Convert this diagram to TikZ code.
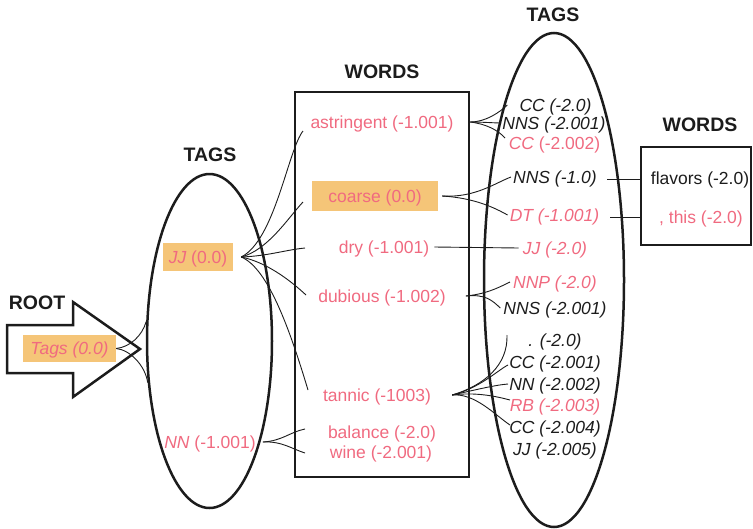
\documentclass[tikz,border=0pt]{standalone}
\usepackage{fontspec}
\setmainfont{Liberation Sans}
\usetikzlibrary{shapes.geometric}
\definecolor{pinktxt}{RGB}{240,106,128}
\definecolor{hl}{RGB}{245,197,120}
\definecolor{ink}{RGB}{28,28,28}
\tikzset{
  txt/.style={inner sep=0pt, text height=12.5pt, text depth=0pt, text=ink, font=\fontsize{17.5}{21}\selectfont},
  ptxt/.style={txt, text=pinktxt},
  itxt/.style={txt, font=\fontsize{17.5}{21}\selectfont\itshape},
  pitxt/.style={itxt, text=pinktxt},
  hdr/.style={inner sep=0pt, text=ink, font=\fontsize{19.5}{23}\selectfont\bfseries},
  hlbox/.style={fill=hl, inner sep=0pt, text height=12.5pt, text depth=0pt, text=pinktxt, font=\fontsize{17.5}{21}\selectfont},
  frame/.style={line width=2.5pt, draw=ink},
  conn/.style={line width=0.9pt, draw=ink},
}
\begin{document}
\begin{tikzpicture}[x=1pt,y=1pt]
\useasboundingbox (0,0) rectangle (753,-528);

% ---------- containers ----------
\draw[frame, line join=miter] (7,-325) -- (73,-325) -- (73,-302) -- (140,-349) -- (73,-397) -- (73,-373) -- (7,-373) -- cycle;
\node[frame, ellipse, minimum width=125pt, minimum height=334pt, inner sep=0pt] (tagsL) at (209.5,-341) {};
\node[frame, rectangle, minimum width=174pt, minimum height=385pt, inner sep=0pt] (wbox) at (382,-284.5) {};
\node[frame, ellipse, minimum width=140pt, minimum height=494pt, inner sep=0pt] (tagsR) at (554,-280) {};
\node[frame, rectangle, minimum width=110pt, minimum height=98pt, inner sep=0pt] (rbox) at (696,-196) {};

% ---------- headers ----------
\node[hdr] (hroot) at (37,-303) {ROOT};
\node[hdr] (htagsL) at (210,-155) {TAGS};
\node[hdr] (hwords) at (382,-72) {WORDS};
\node[hdr] (htagsR) at (553,-15) {TAGS};
\node[hdr] (hwordsR) at (700,-125) {WORDS};

% ---------- left ----------
\node[hlbox, minimum width=93pt, minimum height=27pt] (tagsbox) at (69.5,-348.5) {\itshape Tags (0.0)};
\node[hlbox, minimum width=70pt, minimum height=28pt] (jj) at (198,-257) {\itshape JJ\upshape\ (0.0)};
\node[ptxt] (nn) at (210,-442) {\itshape NN\upshape\ (-1.001)};

% ---------- words ----------
\node[ptxt] (astr) at (382,-122) {astringent (-1.001)};
\node[hlbox, minimum width=126pt, minimum height=30pt] (coarse) at (375,-196) {coarse (0.0)};
\node[ptxt] (dry) at (384,-247) {dry (-1.001)};
\node[ptxt] (dub) at (382,-296) {dubious (-1.002)};
\node[ptxt] (tan) at (377,-395) {tannic (-1003)};
\node[ptxt] (bal) at (382,-432) {balance (-2.0)};
\node[ptxt] (wine) at (381,-452) {wine (-2.001)};

% ---------- tags (right) ----------
\node[itxt] (t1) at (555.5,-105) {CC (-2.0)};
\node[itxt] (t2) at (554,-123) {NNS (-2.001)};
\node[ptxt] (t3) at (554.5,-143) {\itshape CC\upshape\ (-2.002)};
\node[itxt] (t4) at (555,-177) {NNS (-1.0)};
\node[pitxt] (t5) at (554.5,-215) {DT (-1.001)};
\node[pitxt] (t6) at (555,-248) {JJ (-2.0)};
\node[pitxt] (t7) at (555,-282) {NNP (-2.0)};
\node[itxt] (t8) at (555,-308) {NNS (-2.001)};
\node[itxt] (t9) at (555,-340) {. (-2.0)};
\node[itxt] (t10) at (555,-362) {CC (-2.001)};
\node[itxt] (t11) at (555,-384) {NN (-2.002)};
\node[pitxt] (t12) at (555,-405) {RB (-2.003)};
\node[itxt] (t13) at (555,-427) {CC (-2.004)};
\node[itxt] (t14) at (555,-449) {JJ (-2.005)};

% ---------- right words ----------
\node[txt] (flav) at (700,-178) {flavors (-2.0)};
\node[ptxt] (this) at (701,-217) {, this (-2.0)};

% ---------- connector end points ----------
\coordinate (jA) at (303,-131);
\coordinate (jB) at (303,-202);
\coordinate (jC) at (305,-248);
\coordinate (jD) at (306,-295);
\coordinate (jE) at (308,-390);
\coordinate (nA) at (305,-429);
\coordinate (nB) at (305,-453);
\coordinate (aC) at (505,-138);
\coordinate (tA) at (507,-335);
\coordinate (tB) at (508,-365);
\coordinate (tC) at (508,-384);
\coordinate (tD) at (510,-400);
\coordinate (tE) at (510,-425);

% root -> left tags
\draw[conn] (tagsbox.east) .. controls (130,-347) and (142,-336) .. (tagsL.163.8);
\draw[conn] (tagsbox.east) .. controls (130,-350) and (145,-365) .. (tagsL.214);

% JJ fan
\draw[conn] ([xshift=8pt]jj.east) .. controls (275,-240) and (288,-150) .. (jA);
\draw[conn] ([xshift=8pt]jj.east) .. controls (268,-250) and (288,-218) .. (jB);
\draw[conn] ([xshift=8pt]jj.east) .. controls (268,-256) and (285,-250) .. (jC);
\draw[conn] ([xshift=8pt]jj.east) .. controls (266,-262) and (290,-280) .. (jD);
\draw[conn] ([xshift=8pt]jj.east) .. controls (268,-268) and (290,-330) .. (jE);

% NN fan
\draw[conn] ([xshift=7pt]nn.east) .. controls (282,-441) and (290,-432) .. (nA);
\draw[conn] ([xshift=7pt]nn.east) .. controls (282,-441) and (292,-449) .. (nB);

% astringent fan
\draw[conn] (wbox.east |- astr) .. controls (486,-122) and (500,-112) .. ([xshift=-12pt]t1.west);
\draw[conn] (wbox.east |- astr) .. controls (482,-122) and (495,-123) .. ([xshift=-1pt]t2.west);
\draw[conn] (wbox.east |- astr) .. controls (486,-124) and (498,-130) .. (aC);

% coarse fan
\draw[conn] ([xshift=4pt]coarse.east) .. controls (475,-198) and (495,-183) .. ([xshift=-2pt]t4.west);
\draw[conn] ([xshift=4pt]coarse.east) .. controls (475,-198) and (495,-208) .. ([xshift=-2pt]t5.west);

% dry
\draw[conn] ([xshift=5pt]dry.east) -- ([xshift=-4pt]t6.west);

% dubious fan
\draw[conn] ([xshift=20pt]dub.east) .. controls (485,-294) and (496,-289) .. ([xshift=-3pt]t7.west);
\draw[conn] ([xshift=20pt]dub.east) .. controls (485,-294) and (492,-300) .. ([xshift=-3pt]t8.west);

% tannic fan
\draw[conn] ([xshift=21pt]tan.east) .. controls (485,-385) and (508,-365) .. (tA);
\draw[conn] ([xshift=21pt]tan.east) .. controls (480,-388) and (498,-370) .. (tB);
\draw[conn] ([xshift=21pt]tan.east) .. controls (475,-390) and (495,-385) .. (tC);
\draw[conn] ([xshift=21pt]tan.east) .. controls (475,-392) and (495,-396) .. (tD);
\draw[conn] ([xshift=21pt]tan.east) .. controls (475,-393) and (495,-415) .. (tE);

% tags -> right words
\draw[conn] ([xshift=10pt,yshift=-2pt]t4.east) -- ([yshift=-2pt]t4.east -| rbox.west);
\draw[conn] ([xshift=11pt,yshift=-2pt]t5.east) -- ([yshift=-2pt]t5.east -| rbox.west);
\end{tikzpicture}
\end{document}
